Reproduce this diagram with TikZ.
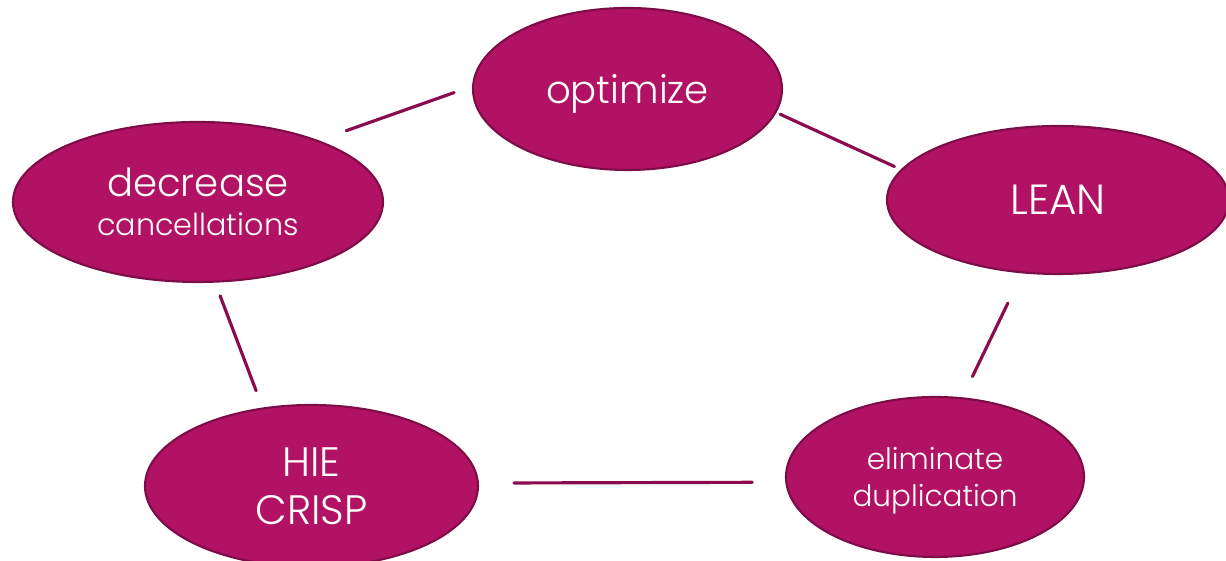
\documentclass[tikz,border=0pt]{standalone}
\usepackage{fontspec}
\IfFontExistsTF{Poppins Light}{\setmainfont{Poppins Light}}{\setmainfont{Poppins}}
\usetikzlibrary{shapes.geometric}
\definecolor{goalfill}{HTML}{B11263}
\definecolor{goalrim}{HTML}{7E0C47}
\definecolor{goalline}{HTML}{8A0C4F}

\begin{document}
\begin{tikzpicture}[
  goalnode/.style={draw=goalrim,line width=0.6pt,fill=goalfill,ellipse,inner sep=0pt,text=white,align=center},
  link/.style={draw=goalline,line width=0.9pt,line cap=round}
]
\useasboundingbox (0,0) rectangle (12.26,5.61);
\node[goalnode,minimum width=3.09cm,minimum height=1.62cm,font=\fontsize{11}{13}\selectfont] (opt) at (6.275,4.72) {\raisebox{-4pt}[0pt][0pt]{optimize}};
\node[goalnode,minimum width=3.42cm,minimum height=1.48cm,font=\fontsize{12}{14}\selectfont] (lean) at (10.58,3.61) {LEAN};
\node[goalnode,minimum width=3.70cm,minimum height=1.60cm] (dec) at (1.98,3.59) {\fontsize{11}{11}\selectfont decrease\\[-1pt]\fontsize{8.6}{11}\selectfont cancellations};
\node[goalnode,minimum width=3.33cm,minimum height=1.62cm,font=\fontsize{11.7}{13.7}\selectfont] (hie) at (3.115,0.75) {HIE\\CRISP};
\node[goalnode,minimum width=2.98cm,minimum height=1.60cm,font=\fontsize{8.4}{10.5}\selectfont] (elim) at (9.35,0.84) {\raisebox{2pt}[0pt][0pt]{\begin{tabular}[t]{@{}c@{}}eliminate\\duplication\end{tabular}}};

\path (dec.27.5) edge[link,shorten <=0.29cm,shorten >=0.19cm] (opt.179)
(opt.351.5) edge[link,shorten <=0.04cm,shorten >=0.07cm] (lean.169.2)
(lean.244.5) edge[link,shorten <=0.33cm,shorten >=0.23cm] (elim.71)
(elim.182.5) edge[link,shorten <=0.33cm,shorten >=0.35cm] (hie.1.5)
(hie.122) edge[link,shorten <=0.18cm,shorten >=0.14cm] (dec.282.7);
\end{tikzpicture}
\end{document}
